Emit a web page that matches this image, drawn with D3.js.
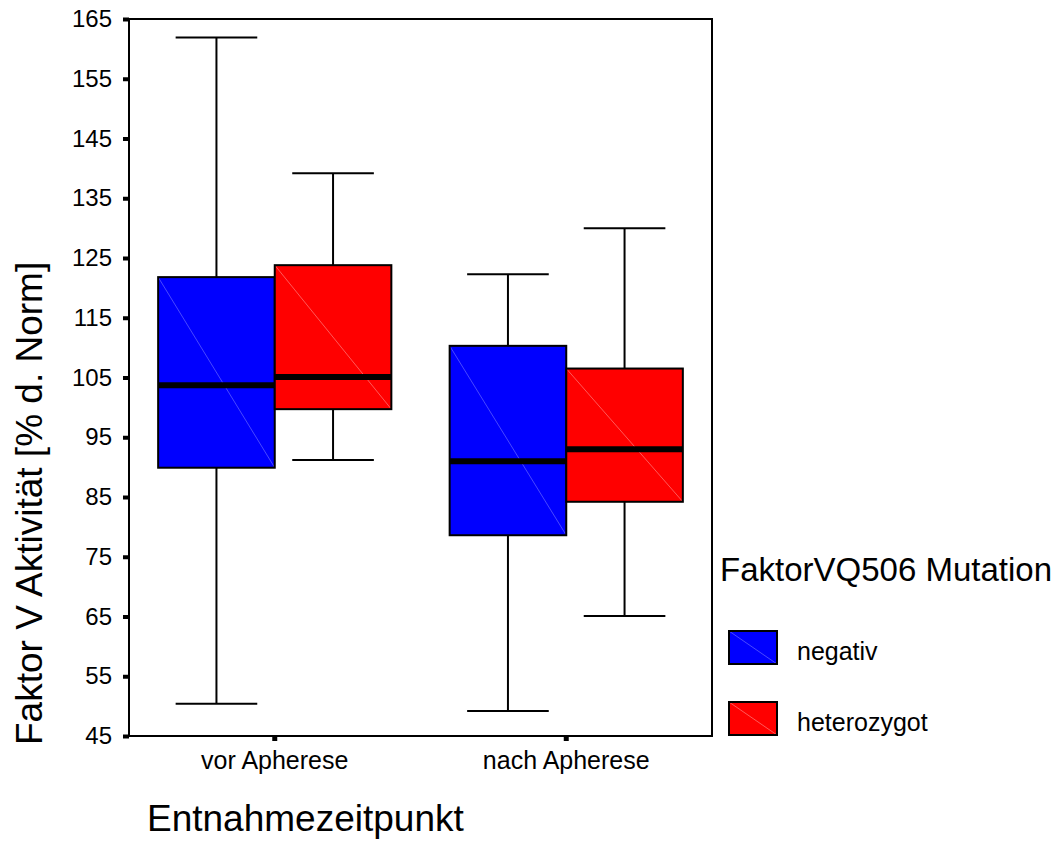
<!DOCTYPE html>
<html>
<head>
<meta charset="utf-8">
<script src="https://cdn.jsdelivr.net/npm/d3@7"></script>
<style>
  body { margin: 0; background: #fff; }
  text { font-family: "Liberation Sans", Arial, sans-serif; fill: #000; }
</style>
</head>
<body>
<svg id="chart" width="1058" height="863"></svg>
<script>
(function (d3) {
    'use strict';

    // data
    const categories = ["vor Apherese", "nach Apherese"];
    const groups = ["negativ", "heterozygot"];
    const colors = ["#0000ff", "#ff0000"];
    const diagColors = ["#5a5aff", "#ff7070"];
    // [min, q1, median, q3, max] per category, per group
    const negativ = [[50.4, 89.9, 103.7, 121.8, 161.9], [49.2, 78.6, 91.0, 110.3, 122.3]];
    const heterozygot = [[91.2, 99.7, 105.1, 123.8, 139.2], [65.1, 84.2, 93.0, 106.5, 130.0]];
    const yTicks = d3.range(45, 166, 10);

    const series = [negativ, heterozygot];

    const svg = d3.select("#chart");
    const left = 129, right = 712, top = 19, bottom = 736;

    const x = d3.scaleBand().domain(categories).range([left, right]).padding(0);
    const inner = d3.scaleBand().domain(groups).range([0, x.bandwidth() * 0.8]);
    const y = d3.scaleLinear().domain([45, 165]).range([bottom, top]);

    // boxes
    const boxes = [];
    categories.forEach((c, ci) => {
        groups.forEach((gname, gi) => {
            const v = series[gi][ci];
            boxes.push({ cat: c, grp: gname, gi, min: v[0], q1: v[1], med: v[2], q3: v[3], max: v[4] });
        });
    });

    const g = svg.append('g');
    const box = g.selectAll('g.box').data(boxes).enter().append('g').attr('class', 'box');
    const bx = d => x(d.cat) + x.bandwidth() * 0.1 + inner(d.grp);
    const bw = inner.bandwidth();
    const cx = d => bx(d) + bw / 2;

    // whiskers
    box.append('line')
        .attr('x1', cx).attr('x2', cx)
        .attr('y1', d => y(d.max)).attr('y2', d => y(d.q3))
        .attr('stroke', '#000').attr('stroke-width', 2);
    box.append('line')
        .attr('x1', cx).attr('x2', cx)
        .attr('y1', d => y(d.q1)).attr('y2', d => y(d.min))
        .attr('stroke', '#000').attr('stroke-width', 2);
    ['max', 'min'].forEach(k => {
        box.append('line')
            .attr('x1', d => cx(d) - bw * 0.35).attr('x2', d => cx(d) + bw * 0.35)
            .attr('y1', d => y(d[k])).attr('y2', d => y(d[k]))
            .attr('stroke', '#000').attr('stroke-width', 2);
    });

    box.append('rect')
        .attr('x', bx).attr('width', bw)
        .attr('y', d => y(d.q3)).attr('height', d => y(d.q1) - y(d.q3))
        .attr('fill', d => colors[d.gi]);
    box.append('line')
        .attr('x1', bx).attr('y1', d => y(d.q3))
        .attr('x2', d => bx(d) + bw).attr('y2', d => y(d.q1))
        .attr('stroke', d => diagColors[d.gi]).attr('stroke-width', 0.8);
    box.append('rect')
        .attr('x', bx).attr('width', bw)
        .attr('y', d => y(d.q3)).attr('height', d => y(d.q1) - y(d.q3))
        .attr('fill', 'none').attr('stroke', '#000').attr('stroke-width', 2);
    box.append('line')
        .attr('x1', bx).attr('x2', d => bx(d) + bw)
        .attr('y1', d => y(d.med)).attr('y2', d => y(d.med))
        .attr('stroke', '#000').attr('stroke-width', 6);

    // frame
    svg.append('rect')
        .attr('x', left).attr('y', top)
        .attr('width', right - left).attr('height', bottom - top)
        .attr('fill', 'none').attr('stroke', '#000').attr('stroke-width', 2);

    // y axis
    const yAxis = svg.append('g')
        .attr('transform', `translate(${left},0)`)
        .call(d3.axisLeft(y).tickValues(yTicks).tickSize(6).tickPadding(11));
    yAxis.select('.domain').remove();
    yAxis.selectAll('.tick line').attr('stroke', '#000').attr('stroke-width', 4);
    yAxis.selectAll('.tick text')
        .style('font-size', '24px').style('font-family', '"Liberation Sans", Arial, sans-serif');

    // x axis
    const xAxis = svg.append('g')
        .attr('transform', `translate(0,${bottom})`)
        .call(d3.axisBottom(x).tickSize(5).tickPadding(10));
    xAxis.select('.domain').remove();
    xAxis.selectAll('.tick line').attr('stroke', '#000').attr('stroke-width', 5);
    xAxis.selectAll('.tick text')
        .style('font-size', '25px').style('font-family', '"Liberation Sans", Arial, sans-serif');

    // titles
    svg.append('text')
        .attr('transform', `translate(42,745) rotate(-90)`)
        .attr('text-anchor', 'start')
        .style('font-size', '37px')
        .text('Faktor V Aktivität [% d. Norm]');
    svg.append('text')
        .attr('x', 147).attr('y', 831)
        .style('font-size', '37px')
        .text('Entnahmezeitpunkt');

    // legend
    svg.append('text')
        .attr('x', 720).attr('y', 581)
        .style('font-size', '33px')
        .text('FaktorVQ506 Mutation');
    const leg = svg.selectAll('g.leg').data(groups).enter().append('g')
        .attr('class', 'leg')
        .attr('transform', (d, i) => `translate(729,${631 + i * 71})`);
    leg.append('rect').attr('width', 48).attr('height', 33)
        .attr('fill', (d, i) => colors[i]);
    leg.append('line').attr('x1', 0).attr('y1', 0).attr('x2', 48).attr('y2', 33)
        .attr('stroke', (d, i) => diagColors[i]).attr('stroke-width', 0.8);
    leg.append('rect').attr('width', 48).attr('height', 33)
        .attr('fill', 'none').attr('stroke', '#000').attr('stroke-width', 2);
    leg.append('text').attr('x', 68).attr('y', 29)
        .style('font-size', '25px')
        .text(d => d);

}(d3));
</script>
</body>
</html>
